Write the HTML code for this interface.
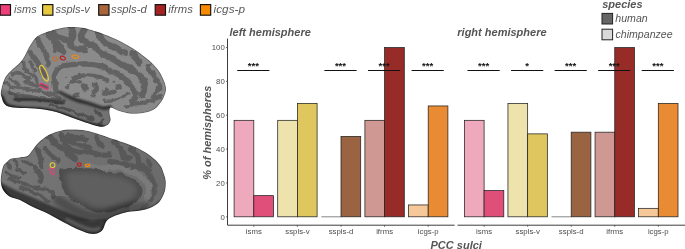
<!DOCTYPE html>
<html lang="en"><head><meta charset="utf-8"><title>PCC sulci</title>
<style>html,body{margin:0;padding:0;background:#fff;}body{width:685px;height:249px;position:relative;overflow:hidden;font-family:"Liberation Sans", sans-serif;}</style>
</head><body>
<svg width="685" height="249" viewBox="0 0 685 249" style="position:absolute;left:0;top:0;font-family:'Liberation Sans', sans-serif">
<defs>
<clipPath id="ct"><path d="M1.6 96.8C1.1 95.1 0.7 94.9 0.8 92.9C0.9 90.9 1.6 87.6 2.4 84.9C3.2 82.2 4.1 79.2 5.6 76.8C7.1 74.4 9.0 72.5 11.2 70.4C13.3 68.3 16.4 66.1 18.5 64.0C20.6 61.9 22.1 60.1 23.6 57.7C25.2 55.3 26.6 51.9 27.8 49.6C29.0 47.3 29.5 46.2 31.0 44.0C32.5 41.8 34.3 38.5 37.0 36.5C39.7 34.5 42.9 33.4 47.0 32.0C51.1 30.6 57.4 28.9 61.4 28.0C65.4 27.1 67.4 26.9 71.2 26.9C75.0 26.9 79.2 27.0 84.0 28.0C88.8 29.0 94.6 30.9 100.0 32.8C105.4 34.7 110.8 36.8 116.2 39.3C121.6 41.8 127.5 45.0 132.3 48.0C137.1 51.0 141.6 54.3 145.0 57.0C148.4 59.7 150.6 61.5 153.0 64.0C155.4 66.5 157.7 69.0 159.6 72.0C161.5 75.0 163.3 78.8 164.4 81.7C165.5 84.7 166.1 87.0 166.0 89.7C165.9 92.4 164.7 95.3 163.6 97.7C162.5 100.1 161.2 102.0 159.6 104.0C158.0 106.0 156.6 108.0 154.0 109.5C151.4 111.0 148.2 112.1 144.3 112.8C140.4 113.5 135.0 114.0 130.8 113.7C126.6 113.4 122.4 112.0 119.0 111.0C115.6 110.0 112.2 107.0 110.6 107.5C109.0 108.0 109.6 112.0 109.6 114.0C109.6 116.0 110.8 118.0 110.6 119.7C110.4 121.4 109.5 123.2 108.2 124.4C106.9 125.6 104.4 126.4 102.5 126.7C100.6 127.0 99.4 126.6 97.0 126.0C94.6 125.4 92.4 124.7 88.3 123.3C84.2 121.9 77.6 119.6 72.3 117.7C67.0 115.8 61.6 113.5 56.2 112.0C50.8 110.5 45.9 109.6 40.0 108.9C34.1 108.2 26.0 108.3 20.9 108.0C15.8 107.7 12.4 107.6 9.6 106.8C6.8 106.0 5.3 104.9 4.0 103.2C2.7 101.5 2.1 98.5 1.6 96.8Z"/></clipPath>
<clipPath id="cb"><path d="M165.2 190.0C164.6 192.9 163.2 195.8 162.0 198.0C160.8 200.2 160.0 201.5 158.0 203.2C156.0 204.9 152.9 206.8 150.0 208.0C147.1 209.2 144.1 209.7 140.3 210.4C136.6 211.1 131.5 211.2 127.5 212.0C123.5 212.8 119.4 214.1 116.2 215.3C113.0 216.5 110.1 217.9 108.2 219.3C106.3 220.8 105.9 222.3 105.0 224.0C104.1 225.7 103.9 228.1 102.6 229.7C101.3 231.3 99.3 232.8 97.0 233.4C94.7 234.0 92.3 234.1 89.0 233.4C85.7 232.7 81.1 230.8 77.0 229.0C72.9 227.2 69.0 225.1 64.2 222.5C59.4 219.9 53.6 216.4 48.2 213.7C42.8 211.0 36.7 208.7 32.0 206.4C27.3 204.1 23.7 201.7 20.0 200.0C16.3 198.3 12.4 198.2 9.6 196.5C6.8 194.8 4.7 192.4 3.2 190.0C1.7 187.6 1.1 184.7 0.8 182.0C0.5 179.3 0.9 176.7 1.3 174.0C1.7 171.3 2.4 167.9 3.2 166.0C4.1 164.1 5.1 163.8 6.4 162.5C7.7 161.2 9.0 159.3 11.2 158.5C13.3 157.7 16.6 157.8 19.3 157.4C22.0 157.0 25.2 157.2 27.3 156.1C29.4 154.9 30.2 152.8 32.1 150.5C34.0 148.2 35.8 145.1 38.5 142.5C41.2 139.9 44.7 137.1 48.2 135.2C51.7 133.3 55.6 131.8 59.4 130.9C63.1 130.0 66.3 129.7 70.7 129.6C75.1 129.5 80.8 129.6 85.7 130.4C90.6 131.2 94.9 132.8 100.0 134.4C105.1 136.0 110.8 138.1 116.2 140.0C121.6 141.9 127.5 143.7 132.3 145.7C137.1 147.7 141.3 149.7 145.0 152.0C148.7 154.3 152.0 156.9 154.7 159.3C157.4 161.7 159.6 164.3 161.0 166.5C162.4 168.7 162.6 170.1 163.4 172.4C164.2 174.7 165.4 177.6 165.7 180.5C166.0 183.4 165.8 187.1 165.2 190.0Z"/></clipPath>
<filter id="b03" x="-10%" y="-10%" width="120%" height="120%"><feTurbulence type="fractalNoise" baseFrequency="0.16" numOctaves="2" seed="3" result="n"/><feDisplacementMap in="SourceGraphic" in2="n" scale="4.5" xChannelSelector="R" yChannelSelector="G" result="d"/><feGaussianBlur in="d" stdDeviation="0.3"/></filter>
<filter id="b05" x="-20%" y="-20%" width="140%" height="140%"><feGaussianBlur stdDeviation="0.6"/></filter>
<filter id="b1" x="-20%" y="-20%" width="140%" height="140%"><feGaussianBlur stdDeviation="1.2"/></filter>
<filter id="b3" x="-20%" y="-20%" width="140%" height="140%"><feGaussianBlur stdDeviation="2.5"/></filter>
<filter id="b6" x="-20%" y="-20%" width="140%" height="140%"><feGaussianBlur stdDeviation="5"/></filter>
<linearGradient id="gb" gradientUnits="userSpaceOnUse" x1="10" y1="150" x2="160" y2="205"><stop offset="0" stop-color="#777777"/><stop offset="0.5" stop-color="#707070"/><stop offset="1" stop-color="#6b6b6b"/></linearGradient>
<linearGradient id="gt" gradientUnits="userSpaceOnUse" x1="20" y1="40" x2="150" y2="110"><stop offset="0" stop-color="#848484"/><stop offset="0.45" stop-color="#8b8b8b"/><stop offset="1" stop-color="#888888"/></linearGradient>
</defs>
<g clip-path="url(#ct)">
<path d="M1.6 96.8C1.1 95.1 0.7 94.9 0.8 92.9C0.9 90.9 1.6 87.6 2.4 84.9C3.2 82.2 4.1 79.2 5.6 76.8C7.1 74.4 9.0 72.5 11.2 70.4C13.3 68.3 16.4 66.1 18.5 64.0C20.6 61.9 22.1 60.1 23.6 57.7C25.2 55.3 26.6 51.9 27.8 49.6C29.0 47.3 29.5 46.2 31.0 44.0C32.5 41.8 34.3 38.5 37.0 36.5C39.7 34.5 42.9 33.4 47.0 32.0C51.1 30.6 57.4 28.9 61.4 28.0C65.4 27.1 67.4 26.9 71.2 26.9C75.0 26.9 79.2 27.0 84.0 28.0C88.8 29.0 94.6 30.9 100.0 32.8C105.4 34.7 110.8 36.8 116.2 39.3C121.6 41.8 127.5 45.0 132.3 48.0C137.1 51.0 141.6 54.3 145.0 57.0C148.4 59.7 150.6 61.5 153.0 64.0C155.4 66.5 157.7 69.0 159.6 72.0C161.5 75.0 163.3 78.8 164.4 81.7C165.5 84.7 166.1 87.0 166.0 89.7C165.9 92.4 164.7 95.3 163.6 97.7C162.5 100.1 161.2 102.0 159.6 104.0C158.0 106.0 156.6 108.0 154.0 109.5C151.4 111.0 148.2 112.1 144.3 112.8C140.4 113.5 135.0 114.0 130.8 113.7C126.6 113.4 122.4 112.0 119.0 111.0C115.6 110.0 112.2 107.0 110.6 107.5C109.0 108.0 109.6 112.0 109.6 114.0C109.6 116.0 110.8 118.0 110.6 119.7C110.4 121.4 109.5 123.2 108.2 124.4C106.9 125.6 104.4 126.4 102.5 126.7C100.6 127.0 99.4 126.6 97.0 126.0C94.6 125.4 92.4 124.7 88.3 123.3C84.2 121.9 77.6 119.6 72.3 117.7C67.0 115.8 61.6 113.5 56.2 112.0C50.8 110.5 45.9 109.6 40.0 108.9C34.1 108.2 26.0 108.3 20.9 108.0C15.8 107.7 12.4 107.6 9.6 106.8C6.8 106.0 5.3 104.9 4.0 103.2C2.7 101.5 2.1 98.5 1.6 96.8Z" fill="url(#gt)"/>
<g fill="none" stroke="#626262" stroke-linecap="round" stroke-linejoin="round" filter="url(#b03)">
<path d="M48.2 34.4C49.4 35.6 53.4 39.4 55.4 41.7C57.4 44.0 59.3 46.5 60.5 48.2C61.7 49.9 62.4 51.4 62.8 52.0" stroke-width="6.8"/>
<path d="M53.8 32.8C54.9 33.6 58.1 36.6 60.2 37.7C62.3 38.8 65.5 39.0 66.6 39.3" stroke-width="5.4"/>
<path d="M71.5 28.0C71.8 29.3 73.3 33.6 73.0 36.0C72.7 38.4 69.6 40.5 69.9 42.5C70.2 44.5 72.3 47.0 74.7 48.1C77.1 49.2 82.7 48.8 84.3 48.9" stroke-width="6.8"/>
<path d="M84.3 29.6C83.8 30.8 80.8 34.6 81.1 36.8C81.4 38.9 83.8 40.9 85.9 42.5C88.0 44.1 91.6 44.9 93.9 46.5C96.2 48.1 97.3 50.2 100.0 52.0C102.7 53.8 106.8 55.3 110.2 57.2C113.6 59.1 117.0 61.3 120.4 63.3C123.8 65.3 127.6 67.5 130.7 69.4C133.8 71.4 136.5 73.0 138.8 75.0C141.1 77.0 143.6 79.3 144.5 81.5C145.4 83.7 144.4 86.2 144.0 88.4C143.6 90.7 142.3 93.9 142.0 95.0" stroke-width="6.6"/>
<path d="M98.0 32.8C98.5 33.8 99.8 36.9 101.0 38.5C102.2 40.1 103.2 41.3 105.0 42.6C106.8 43.9 109.2 44.9 112.0 46.4C114.8 47.9 119.5 50.6 121.7 51.6C123.9 52.6 124.5 52.4 125.0 52.5" stroke-width="6.2"/>
<path d="M37.7 40.0C38.4 41.4 40.5 45.4 42.0 48.1C43.5 50.8 45.6 53.6 46.6 56.1C47.6 58.6 47.9 62.1 48.2 63.3" stroke-width="5.4"/>
<path d="M30.5 52.9C31.3 54.0 34.0 57.4 35.3 59.3C36.6 61.1 38.0 63.2 38.5 64.0" stroke-width="5.4"/>
<path d="M54.6 45.5C54.8 46.5 55.4 50.5 55.6 51.5" stroke-width="4.1"/>
<path d="M56.0 92.0C55.9 90.8 55.5 87.7 55.2 85.0C54.9 82.3 53.9 78.6 54.3 76.0C54.7 73.4 55.9 71.2 57.6 69.5C59.4 67.8 61.9 66.7 64.8 65.8C67.7 64.9 71.0 64.6 75.0 64.3C79.0 64.0 84.7 63.9 89.0 64.2C93.3 64.6 97.6 65.3 101.1 66.4C104.6 67.5 107.0 69.2 110.2 70.8C113.4 72.4 117.3 74.1 120.4 76.0C123.5 77.9 126.4 80.0 128.6 82.2C130.8 84.4 132.5 86.9 133.7 89.4C134.9 91.9 136.1 95.0 135.8 97.0C135.5 99.0 132.6 100.8 132.0 101.5" stroke-width="5.3"/>
<path d="M72.5 82.5C73.0 81.6 74.0 78.5 75.6 77.3C77.2 76.1 79.8 75.9 82.0 75.6C84.2 75.3 85.7 75.0 88.9 75.3C92.1 75.6 98.0 76.6 101.1 77.4C104.2 78.2 106.3 79.6 107.3 80.0" stroke-width="4.2"/>
<path d="M113.0 99.5C114.5 99.1 119.3 98.0 122.0 97.0C124.7 96.0 127.8 94.3 129.0 93.8" stroke-width="3.0"/>
<path d="M103.0 101.0C104.5 100.9 110.5 100.6 112.0 100.5" stroke-width="2.7"/>
<path d="M70.2 83.1C71.2 82.8 74.7 81.2 76.4 81.0C78.1 80.8 79.7 81.8 80.4 82.0" stroke-width="3.2"/>
<path d="M95.3 84.1C95.4 84.9 96.1 87.5 95.8 89.2C95.5 90.9 94.0 93.5 93.7 94.4" stroke-width="4.9"/>
<path d="M104.0 93.0C104.8 92.9 107.3 92.5 109.0 92.3C110.7 92.0 113.2 91.6 114.0 91.5" stroke-width="5.7"/>
<path d="M149.0 66.3C148.9 67.0 147.8 69.1 148.5 70.4C149.2 71.7 151.7 72.4 153.0 74.0C154.3 75.6 154.9 78.3 156.2 80.2C157.4 82.1 160.3 83.7 160.5 85.3C160.7 86.9 158.4 87.8 157.2 89.8C155.9 91.8 153.7 95.8 153.0 97.0" stroke-width="4.9"/>
<path d="M12.5 74.5C13.3 74.2 15.7 72.6 17.3 72.6C18.9 72.6 20.9 73.7 22.2 74.5C23.5 75.3 23.9 76.8 25.0 77.4C26.1 78.1 28.2 78.2 28.9 78.4" stroke-width="3.8"/>
<path d="M9.6 79.3C10.4 79.6 12.9 80.5 14.5 81.3C16.1 82.1 18.5 83.7 19.3 84.2" stroke-width="3.2"/>
<path d="M26.0 81.3C27.0 81.8 29.7 83.4 31.8 84.2C33.9 85.0 37.4 85.7 38.5 86.0" stroke-width="4.1"/>
<path d="M48.2 62.0C48.0 62.8 47.4 66.0 47.2 66.8" stroke-width="4.1"/>
<path d="M11.0 87.0C12.0 87.2 14.8 87.8 17.0 88.0C19.2 88.2 21.2 88.2 24.0 88.5C26.8 88.8 30.5 89.5 33.7 90.0C36.9 90.5 40.2 90.9 43.4 91.8C46.6 92.7 50.3 94.4 53.0 95.5C55.7 96.6 58.6 97.9 59.7 98.4" stroke-width="4.1"/>
<path d="M9.6 91.6C10.4 92.2 12.9 94.4 14.5 95.5C16.1 96.6 18.5 97.9 19.3 98.4" stroke-width="3.5"/>
<path d="M5.8 83.0C6.4 83.3 9.0 84.7 9.6 85.0" stroke-width="3.2"/>
<path d="M16.0 99.3C18.7 99.2 26.6 98.4 32.0 98.5C37.4 98.6 42.8 99.4 48.2 100.0C53.6 100.6 61.5 101.8 64.2 102.2" stroke-width="4.1"/>
<path d="M23.1 62.0C23.3 63.0 23.1 66.0 24.1 67.8C25.1 69.6 27.1 71.1 28.9 72.6C30.7 74.0 33.4 75.0 34.7 76.5C36.0 78.0 36.3 80.5 36.6 81.3" stroke-width="4.1"/>
<path d="M30.8 62.0C31.1 63.0 32.0 66.2 32.8 67.8C33.6 69.4 35.1 71.0 35.6 71.6" stroke-width="3.2"/>
<path d="M41.0 68.0C41.7 69.5 44.3 75.3 45.0 76.8" stroke-width="4.7"/>
<path d="M12.0 94.0C14.7 94.3 22.7 95.1 28.0 96.0C33.3 96.9 38.7 98.7 44.0 99.5C49.3 100.3 57.3 100.8 60.0 101.0" stroke-width="3.0"/>
<path d="M50.0 105.0C52.7 105.7 60.7 107.3 66.0 109.0C71.3 110.7 77.3 113.2 82.0 115.0C86.7 116.8 92.0 118.8 94.0 119.5" stroke-width="3.0"/>
<path d="M96.0 111.0C96.8 111.8 100.2 114.8 101.0 115.5" stroke-width="3.5"/>
<path d="M103.0 120.0C102.5 120.6 100.5 122.9 100.0 123.5" stroke-width="3.2"/>
<path d="M125.8 107.0C127.5 106.4 132.2 104.3 135.9 103.5C139.6 102.7 143.5 103.0 147.7 101.9C151.9 100.8 158.8 97.7 161.0 96.8" stroke-width="4.1"/>
<path d="M133.0 54.0C133.6 54.8 135.5 57.0 136.5 58.5C137.5 60.0 138.6 62.2 139.0 63.0" stroke-width="7.0"/>
<path d="M121.0 53.0C121.7 52.9 124.3 52.4 125.0 52.3" stroke-width="4.1"/>
</g>
<g fill="#626262" filter="url(#b03)">
<circle cx="119" cy="86.8" r="2.76"/>
<circle cx="113.8" cy="82.2" r="1.38"/>
<circle cx="85" cy="87.7" r="3.91"/>
<circle cx="67.2" cy="87.2" r="2.30"/>
<circle cx="76.4" cy="94.9" r="2.76"/>
<circle cx="66.9" cy="76.9" r="1.15"/>
<circle cx="38.9" cy="37.2" r="1.72"/>
<circle cx="106.5" cy="89" r="1.72"/>
</g>
<path d="M60.0 92.5C62.5 93.7 70.2 97.6 75.3 99.5C80.4 101.4 86.1 102.6 90.7 104.0C95.3 105.4 99.8 107.5 103.0 108.0C106.2 108.5 108.8 107.2 110.0 107.0" fill="none" stroke="#000" stroke-opacity="0.6" stroke-width="3.6" stroke-linecap="round" filter="url(#b1)"/>
<path d="M14.0 99.0C16.7 99.1 24.7 99.3 30.0 99.6C35.3 99.9 40.6 100.2 46.0 100.8C51.4 101.4 59.8 103.0 62.6 103.4" fill="none" stroke="#000" stroke-opacity="0.4" stroke-width="2.6" stroke-linecap="round" filter="url(#b1)"/>
<path d="M-2 88L20 95L50 99L70 96L90 103.5L103 107.5L112 106L114 132L-2 132Z" fill="#000" fill-opacity="0.17" filter="url(#b1)"/>
<path d="M1.0 98.0C1.8 99.3 2.7 104.1 6.0 106.0C9.3 107.9 15.2 108.8 20.9 109.5C26.6 110.2 34.1 109.8 40.0 110.5C45.9 111.2 50.8 112.0 56.2 113.5C61.6 115.0 67.0 117.3 72.3 119.2C77.6 121.1 83.3 123.3 88.3 124.8C93.3 126.3 100.1 127.5 102.5 128.0" fill="none" stroke="#000" stroke-opacity="0.68" stroke-width="6" stroke-linecap="round" filter="url(#b1)"/>
<path d="M1.6 96.8C1.1 95.1 0.7 94.9 0.8 92.9C0.9 90.9 1.6 87.6 2.4 84.9C3.2 82.2 4.1 79.2 5.6 76.8C7.1 74.4 9.0 72.5 11.2 70.4C13.3 68.3 16.4 66.1 18.5 64.0C20.6 61.9 22.1 60.1 23.6 57.7C25.2 55.3 26.6 51.9 27.8 49.6C29.0 47.3 29.5 46.2 31.0 44.0C32.5 41.8 34.3 38.5 37.0 36.5C39.7 34.5 42.9 33.4 47.0 32.0C51.1 30.6 57.4 28.9 61.4 28.0C65.4 27.1 67.4 26.9 71.2 26.9C75.0 26.9 79.2 27.0 84.0 28.0C88.8 29.0 94.6 30.9 100.0 32.8C105.4 34.7 110.8 36.8 116.2 39.3C121.6 41.8 127.5 45.0 132.3 48.0C137.1 51.0 141.6 54.3 145.0 57.0C148.4 59.7 150.6 61.5 153.0 64.0C155.4 66.5 157.7 69.0 159.6 72.0C161.5 75.0 163.3 78.8 164.4 81.7C165.5 84.7 166.1 87.0 166.0 89.7C165.9 92.4 164.7 95.3 163.6 97.7C162.5 100.1 161.2 102.0 159.6 104.0C158.0 106.0 156.6 108.0 154.0 109.5C151.4 111.0 148.2 112.1 144.3 112.8C140.4 113.5 135.0 114.0 130.8 113.7C126.6 113.4 122.4 112.0 119.0 111.0C115.6 110.0 112.2 107.0 110.6 107.5C109.0 108.0 109.6 112.0 109.6 114.0C109.6 116.0 110.8 118.0 110.6 119.7C110.4 121.4 109.5 123.2 108.2 124.4C106.9 125.6 104.4 126.4 102.5 126.7C100.6 127.0 99.4 126.6 97.0 126.0C94.6 125.4 92.4 124.7 88.3 123.3C84.2 121.9 77.6 119.6 72.3 117.7C67.0 115.8 61.6 113.5 56.2 112.0C50.8 110.5 45.9 109.6 40.0 108.9C34.1 108.2 26.0 108.3 20.9 108.0C15.8 107.7 12.4 107.6 9.6 106.8C6.8 106.0 5.3 104.9 4.0 103.2C2.7 101.5 2.1 98.5 1.6 96.8Z" fill="none" stroke="#000" stroke-opacity="0.28" stroke-width="1.8" filter="url(#b05)"/>
</g>
<g clip-path="url(#cb)">
<path d="M165.2 190.0C164.6 192.9 163.2 195.8 162.0 198.0C160.8 200.2 160.0 201.5 158.0 203.2C156.0 204.9 152.9 206.8 150.0 208.0C147.1 209.2 144.1 209.7 140.3 210.4C136.6 211.1 131.5 211.2 127.5 212.0C123.5 212.8 119.4 214.1 116.2 215.3C113.0 216.5 110.1 217.9 108.2 219.3C106.3 220.8 105.9 222.3 105.0 224.0C104.1 225.7 103.9 228.1 102.6 229.7C101.3 231.3 99.3 232.8 97.0 233.4C94.7 234.0 92.3 234.1 89.0 233.4C85.7 232.7 81.1 230.8 77.0 229.0C72.9 227.2 69.0 225.1 64.2 222.5C59.4 219.9 53.6 216.4 48.2 213.7C42.8 211.0 36.7 208.7 32.0 206.4C27.3 204.1 23.7 201.7 20.0 200.0C16.3 198.3 12.4 198.2 9.6 196.5C6.8 194.8 4.7 192.4 3.2 190.0C1.7 187.6 1.1 184.7 0.8 182.0C0.5 179.3 0.9 176.7 1.3 174.0C1.7 171.3 2.4 167.9 3.2 166.0C4.1 164.1 5.1 163.8 6.4 162.5C7.7 161.2 9.0 159.3 11.2 158.5C13.3 157.7 16.6 157.8 19.3 157.4C22.0 157.0 25.2 157.2 27.3 156.1C29.4 154.9 30.2 152.8 32.1 150.5C34.0 148.2 35.8 145.1 38.5 142.5C41.2 139.9 44.7 137.1 48.2 135.2C51.7 133.3 55.6 131.8 59.4 130.9C63.1 130.0 66.3 129.7 70.7 129.6C75.1 129.5 80.8 129.6 85.7 130.4C90.6 131.2 94.9 132.8 100.0 134.4C105.1 136.0 110.8 138.1 116.2 140.0C121.6 141.9 127.5 143.7 132.3 145.7C137.1 147.7 141.3 149.7 145.0 152.0C148.7 154.3 152.0 156.9 154.7 159.3C157.4 161.7 159.6 164.3 161.0 166.5C162.4 168.7 162.6 170.1 163.4 172.4C164.2 174.7 165.4 177.6 165.7 180.5C166.0 183.4 165.8 187.1 165.2 190.0Z" fill="url(#gb)"/>
<g fill="none" stroke="#595959" stroke-linecap="round" stroke-linejoin="round" filter="url(#b03)">
<path d="M49.8 137.6C50.9 138.7 53.3 141.6 56.2 144.0C59.1 146.4 64.1 149.4 67.4 152.0C70.7 154.6 74.6 158.2 76.0 159.5" stroke-width="5.6"/>
<path d="M61.0 134.4C62.3 135.5 65.8 138.9 69.0 140.8C72.2 142.7 76.8 144.6 80.3 145.7C83.8 146.8 88.4 147.0 90.0 147.3" stroke-width="5.0"/>
<path d="M69.0 133.6C70.3 134.1 74.0 135.9 77.0 136.8C80.0 137.7 85.1 138.8 86.7 139.2" stroke-width="3.1"/>
<path d="M96.4 137.6C96.9 138.7 98.5 142.7 99.6 144.0C100.7 145.3 102.3 145.4 102.8 145.7" stroke-width="4.4"/>
<path d="M45.0 148.9C46.1 150.0 49.1 153.3 51.4 155.3C53.6 157.3 57.3 160.1 58.5 161.0" stroke-width="4.4"/>
<path d="M37.0 148.9C37.5 150.2 39.2 154.0 40.0 156.9C40.8 159.8 41.5 164.9 41.8 166.5" stroke-width="5.0"/>
<path d="M90.0 152.0C91.6 152.4 96.3 153.9 99.6 154.5C102.9 155.1 108.3 155.3 110.0 155.5" stroke-width="4.4"/>
<path d="M14.5 160.0C15.0 160.8 17.2 164.2 17.7 165.0" stroke-width="3.8"/>
<path d="M23.0 161.0C24.2 161.5 27.8 162.8 30.0 164.0C32.2 165.2 35.0 167.8 36.0 168.5" stroke-width="3.5"/>
<path d="M8.5 163.5C8.8 164.2 10.2 167.2 10.5 168.0" stroke-width="3.0"/>
<path d="M6.0 172.0C7.0 172.7 9.7 175.1 12.0 176.0C14.3 176.9 18.7 177.2 20.0 177.5" stroke-width="3.0"/>
<path d="M114.6 142.5C115.7 143.6 119.4 146.5 121.0 148.9C122.6 151.3 122.6 155.3 124.2 156.9C125.8 158.5 129.6 158.2 130.7 158.5" stroke-width="5.6"/>
<path d="M130.7 148.9C131.8 150.0 135.7 152.9 137.0 155.3C138.3 157.7 138.4 162.0 138.7 163.3" stroke-width="5.6"/>
<path d="M146.7 160.0C147.5 160.8 150.7 164.2 151.5 165.0" stroke-width="3.8"/>
<path d="M68.0 134.4C69.1 135.2 72.1 138.7 74.5 139.2C76.9 139.7 80.6 137.3 82.5 137.6C84.4 137.9 85.2 140.3 85.7 140.8" stroke-width="3.8"/>
<path d="M61.6 137.6C62.7 139.2 65.3 144.9 68.0 147.3C70.7 149.7 74.0 151.2 77.7 152.0C81.5 152.8 86.5 151.4 90.5 152.0C94.5 152.6 98.6 154.9 101.8 155.3C105.0 155.7 108.5 154.6 109.8 154.5" stroke-width="5.0"/>
<path d="M37.0 170.8C37.8 171.9 41.3 175.3 41.8 177.2C42.3 179.1 40.3 181.2 40.0 182.0" stroke-width="5.0"/>
<path d="M16.0 169.0C17.3 169.6 22.7 171.8 24.0 172.4" stroke-width="3.8"/>
<path d="M9.6 178.8C12.0 179.6 18.9 182.1 24.0 183.7C29.1 185.3 35.4 187.2 40.0 188.5C44.6 189.8 49.2 190.4 51.4 191.7C53.6 193.0 52.7 195.7 53.0 196.5" stroke-width="3.8"/>
<path d="M20.9 186.9C22.8 187.7 28.5 190.1 32.0 191.7C35.5 193.3 39.1 194.9 41.8 196.5C44.5 198.1 47.1 200.5 48.2 201.3" stroke-width="3.8"/>
<path d="M110.0 161.5C112.5 161.9 120.5 163.0 125.0 164.0C129.5 165.0 133.3 166.2 137.0 167.5C140.7 168.8 144.4 169.9 147.0 172.0C149.6 174.1 151.2 177.0 152.5 180.0C153.8 183.0 154.8 186.7 154.5 190.0C154.2 193.3 151.2 198.3 150.5 200.0" stroke-width="5.5"/>
<path d="M143.0 166.0C144.0 166.7 148.0 169.3 149.0 170.0" stroke-width="6.2"/>
</g>
<path d="M88.0 166.6C89.7 166.7 95.0 166.9 98.0 167.1C101.0 167.3 103.1 167.6 106.0 167.6C108.9 167.6 112.4 166.9 115.6 167.3C118.8 167.7 122.1 169.0 125.3 170.0C128.5 171.0 132.0 172.0 134.9 173.4C137.8 174.8 140.5 176.6 142.6 178.2C144.7 179.8 146.3 181.2 147.4 183.0C148.5 184.8 148.9 186.7 149.0 188.8C149.1 190.9 149.1 193.5 148.0 195.8C146.9 198.1 145.2 200.7 142.5 202.8C139.8 204.9 133.8 207.4 132.0 208.3" fill="none" stroke="#7a7a7a" stroke-width="5.6" stroke-linecap="round" filter="url(#b03)"/>
<path d="M60.0 169.5C62.3 167.2 69.7 168.2 75.0 168.0C80.3 167.8 86.8 167.9 92.0 168.5C97.2 169.1 101.2 170.8 106.0 171.6C110.8 172.4 116.5 172.6 120.5 173.6C124.5 174.6 127.0 175.8 130.0 177.4C133.1 179.0 136.7 181.1 138.8 183.2C140.9 185.3 142.3 187.5 142.5 190.0C142.7 192.5 141.6 195.7 140.0 198.0C138.4 200.3 136.0 202.2 133.0 204.0C130.0 205.8 125.8 207.7 122.0 209.0C118.2 210.3 114.5 211.5 110.0 212.0C105.5 212.5 99.5 213.0 95.0 212.0C90.5 211.0 86.8 208.0 83.0 206.0C79.2 204.0 75.2 202.3 72.0 200.0C68.8 197.7 65.8 195.0 64.0 192.0C62.2 189.0 61.7 185.8 61.0 182.0C60.3 178.2 57.7 171.8 60.0 169.5Z" fill="#4d4d4d" filter="url(#b03)"/>
<path d="M66.0 173.2C68.0 171.3 74.3 172.1 78.9 172.0C83.5 171.9 89.1 171.9 93.5 172.4C98.0 172.9 101.5 174.2 105.6 174.9C109.7 175.6 114.6 175.7 118.0 176.5C121.5 177.3 123.6 178.2 126.2 179.5C128.8 180.8 132.0 182.5 133.8 184.2C135.6 185.8 136.8 187.6 137.0 189.6C137.1 191.6 136.2 194.1 134.8 196.0C133.5 197.9 131.4 199.3 128.8 200.8C126.2 202.3 122.6 203.7 119.3 204.8C116.0 205.9 112.9 206.8 109.0 207.2C105.1 207.6 100.0 208.0 96.1 207.2C92.2 206.4 89.1 204.0 85.8 202.4C82.5 200.8 79.1 199.5 76.3 197.6C73.6 195.7 71.0 193.6 69.5 191.2C67.9 188.8 67.5 186.2 66.9 183.2C66.3 180.2 64.0 175.1 66.0 173.2Z" fill="#5f5f5f" filter="url(#b3)"/>
<path d="M58.0 200.0C60.3 201.5 67.0 206.4 72.0 209.0C77.0 211.6 83.0 214.2 88.0 215.5C93.0 216.8 97.3 217.1 102.0 216.5C106.7 215.9 111.3 213.3 116.0 212.0C120.7 210.7 125.3 209.5 130.0 208.5C134.7 207.5 141.7 206.4 144.0 206.0" fill="none" stroke="#000" stroke-opacity="0.32" stroke-width="11" stroke-linecap="round" filter="url(#b3)"/>
<path d="M-2 181L15 190L35 198.5L60 209.5L76 216L92 220.5L106 219L114 242L-2 242Z" fill="#000" fill-opacity="0.5" filter="url(#b1)"/>
<path d="M1.0 188.0C2.4 189.8 6.4 196.5 9.6 199.0C12.8 201.5 16.3 201.3 20.0 203.0C23.7 204.7 27.3 207.1 32.0 209.4C36.7 211.7 42.8 214.0 48.2 216.7C53.6 219.4 59.4 222.9 64.2 225.5C69.0 228.1 72.9 230.2 77.0 232.0C81.1 233.8 85.3 235.7 89.0 236.4C92.7 237.1 96.2 237.6 99.0 236.0C101.8 234.4 104.8 228.5 106.0 227.0" fill="none" stroke="#000" stroke-opacity="0.45" stroke-width="5" stroke-linecap="round" filter="url(#b1)"/>
<path d="M67.0 219.5C69.2 220.6 75.8 224.1 80.0 225.8C84.2 227.5 88.8 229.2 92.0 229.6C95.2 230.0 97.8 228.7 99.0 228.5" fill="none" stroke="#808080" stroke-opacity="0.5" stroke-width="3.4" stroke-linecap="round" filter="url(#b1)"/>
<path d="M106.0 222.0C107.7 221.1 112.3 217.9 116.0 216.5C119.7 215.1 123.8 214.2 128.0 213.5C132.2 212.8 137.2 212.7 141.0 212.0C144.8 211.3 147.8 211.0 151.0 209.5C154.2 208.0 158.5 204.1 160.0 203.0" fill="none" stroke="#000" stroke-opacity="0.4" stroke-width="4" stroke-linecap="round" filter="url(#b1)"/>
<path d="M165.2 190.0C164.6 192.9 163.2 195.8 162.0 198.0C160.8 200.2 160.0 201.5 158.0 203.2C156.0 204.9 152.9 206.8 150.0 208.0C147.1 209.2 144.1 209.7 140.3 210.4C136.6 211.1 131.5 211.2 127.5 212.0C123.5 212.8 119.4 214.1 116.2 215.3C113.0 216.5 110.1 217.9 108.2 219.3C106.3 220.8 105.9 222.3 105.0 224.0C104.1 225.7 103.9 228.1 102.6 229.7C101.3 231.3 99.3 232.8 97.0 233.4C94.7 234.0 92.3 234.1 89.0 233.4C85.7 232.7 81.1 230.8 77.0 229.0C72.9 227.2 69.0 225.1 64.2 222.5C59.4 219.9 53.6 216.4 48.2 213.7C42.8 211.0 36.7 208.7 32.0 206.4C27.3 204.1 23.7 201.7 20.0 200.0C16.3 198.3 12.4 198.2 9.6 196.5C6.8 194.8 4.7 192.4 3.2 190.0C1.7 187.6 1.1 184.7 0.8 182.0C0.5 179.3 0.9 176.7 1.3 174.0C1.7 171.3 2.4 167.9 3.2 166.0C4.1 164.1 5.1 163.8 6.4 162.5C7.7 161.2 9.0 159.3 11.2 158.5C13.3 157.7 16.6 157.8 19.3 157.4C22.0 157.0 25.2 157.2 27.3 156.1C29.4 154.9 30.2 152.8 32.1 150.5C34.0 148.2 35.8 145.1 38.5 142.5C41.2 139.9 44.7 137.1 48.2 135.2C51.7 133.3 55.6 131.8 59.4 130.9C63.1 130.0 66.3 129.7 70.7 129.6C75.1 129.5 80.8 129.6 85.7 130.4C90.6 131.2 94.9 132.8 100.0 134.4C105.1 136.0 110.8 138.1 116.2 140.0C121.6 141.9 127.5 143.7 132.3 145.7C137.1 147.7 141.3 149.7 145.0 152.0C148.7 154.3 152.0 156.9 154.7 159.3C157.4 161.7 159.6 164.3 161.0 166.5C162.4 168.7 162.6 170.1 163.4 172.4C164.2 174.7 165.4 177.6 165.7 180.5C166.0 183.4 165.8 187.1 165.2 190.0Z" fill="none" stroke="#000" stroke-opacity="0.28" stroke-width="1.8" filter="url(#b05)"/>
</g>
<g fill="none" stroke-width="1.1" stroke-linejoin="round">
<ellipse cx="44" cy="73.3" rx="2.7" ry="8.5" transform="rotate(-24 44 73.3)" stroke="#e8c83a"/>
<rect x="39.4" y="84.7" width="9.2" height="3.2" rx="1.6" transform="rotate(24 44 86.3)" stroke="#e8356e" fill="#5e5e5e"/>
<rect x="52.9" y="57" width="4.8" height="3.6" rx="1.6" stroke="#c8702c"/>
<ellipse cx="62.8" cy="58.1" rx="2.7" ry="1.7" transform="rotate(22 62.8 58.1)" stroke="#b82020"/>
<ellipse cx="75.3" cy="56.7" rx="3.2" ry="1.5" transform="rotate(10 75.3 56.7)" stroke="#f48a10"/>
<ellipse cx="52.5" cy="165.2" rx="2.4" ry="2.4" stroke="#e8c83a"/>
<path d="M49.5 169Q51.6 167.3 53.7 169.2L54.2 173.9Q53 175.3 51.7 173.8Z" stroke="#e8407a"/>
<ellipse cx="79.3" cy="164.5" rx="1.9" ry="1.7" stroke="#c02020" stroke-width="1.3"/>
<ellipse cx="87.5" cy="165.3" rx="2.3" ry="1.3" stroke="#f88a00" stroke-width="1.1"/>
</g>
<rect x="234.10" y="120.33" width="19.70" height="96.47" fill="#eeaabc" stroke="#222" stroke-width="0.75"/>
<rect x="253.80" y="195.64" width="19.70" height="21.16" fill="#e04f79" stroke="#222" stroke-width="0.75"/>
<line x1="237.20" x2="269.40" y1="70.5" y2="70.5" stroke="#111" stroke-width="1.2"/>
<text x="253.30" y="68.7" font-size="9.6" font-weight="bold" text-anchor="middle" fill="#111">***</text>
<rect x="277.70" y="120.33" width="19.70" height="96.47" fill="#efe3ad" stroke="#222" stroke-width="0.75"/>
<rect x="297.40" y="103.40" width="19.70" height="113.40" fill="#dfc65f" stroke="#222" stroke-width="0.75"/>
<line x1="321.30" x2="341.00" y1="216.80" y2="216.80" stroke="#555" stroke-width="0.7"/>
<rect x="341.00" y="136.41" width="19.70" height="80.39" fill="#9a6341" stroke="#222" stroke-width="0.75"/>
<line x1="324.40" x2="356.60" y1="70.5" y2="70.5" stroke="#111" stroke-width="1.2"/>
<text x="340.50" y="68.7" font-size="9.6" font-weight="bold" text-anchor="middle" fill="#111">***</text>
<rect x="364.90" y="120.33" width="19.70" height="96.47" fill="#cf9893" stroke="#222" stroke-width="0.75"/>
<rect x="384.60" y="47.55" width="19.70" height="169.25" fill="#962b27" stroke="#222" stroke-width="0.75"/>
<line x1="368.00" x2="400.20" y1="70.5" y2="70.5" stroke="#111" stroke-width="1.2"/>
<text x="384.10" y="68.7" font-size="9.6" font-weight="bold" text-anchor="middle" fill="#111">***</text>
<rect x="408.50" y="204.95" width="19.70" height="11.85" fill="#f6c798" stroke="#222" stroke-width="0.75"/>
<rect x="428.20" y="105.94" width="19.70" height="110.86" fill="#e88b32" stroke="#222" stroke-width="0.75"/>
<line x1="411.60" x2="443.80" y1="70.5" y2="70.5" stroke="#111" stroke-width="1.2"/>
<text x="427.70" y="68.7" font-size="9.6" font-weight="bold" text-anchor="middle" fill="#111">***</text>
<rect x="464.40" y="120.33" width="19.70" height="96.47" fill="#eeaabc" stroke="#222" stroke-width="0.75"/>
<rect x="484.10" y="190.57" width="19.70" height="26.23" fill="#e04f79" stroke="#222" stroke-width="0.75"/>
<line x1="467.50" x2="499.70" y1="70.5" y2="70.5" stroke="#111" stroke-width="1.2"/>
<text x="483.60" y="68.7" font-size="9.6" font-weight="bold" text-anchor="middle" fill="#111">***</text>
<rect x="507.95" y="103.40" width="19.70" height="113.40" fill="#efe3ad" stroke="#222" stroke-width="0.75"/>
<rect x="527.65" y="133.87" width="19.70" height="82.93" fill="#dfc65f" stroke="#222" stroke-width="0.75"/>
<line x1="511.05" x2="543.25" y1="70.5" y2="70.5" stroke="#111" stroke-width="1.2"/>
<text x="527.15" y="68.7" font-size="9.6" font-weight="bold" text-anchor="middle" fill="#111">*</text>
<line x1="551.50" x2="571.20" y1="216.80" y2="216.80" stroke="#555" stroke-width="0.7"/>
<rect x="571.20" y="132.18" width="19.70" height="84.62" fill="#9a6341" stroke="#222" stroke-width="0.75"/>
<line x1="554.60" x2="586.80" y1="70.5" y2="70.5" stroke="#111" stroke-width="1.2"/>
<text x="570.70" y="68.7" font-size="9.6" font-weight="bold" text-anchor="middle" fill="#111">***</text>
<rect x="595.05" y="132.18" width="19.70" height="84.62" fill="#cf9893" stroke="#222" stroke-width="0.75"/>
<rect x="614.75" y="47.55" width="19.70" height="169.25" fill="#962b27" stroke="#222" stroke-width="0.75"/>
<line x1="598.15" x2="630.35" y1="70.5" y2="70.5" stroke="#111" stroke-width="1.2"/>
<text x="614.25" y="68.7" font-size="9.6" font-weight="bold" text-anchor="middle" fill="#111">***</text>
<rect x="638.60" y="208.34" width="19.70" height="8.46" fill="#f6c798" stroke="#222" stroke-width="0.75"/>
<rect x="658.30" y="103.40" width="19.70" height="113.40" fill="#e88b32" stroke="#222" stroke-width="0.75"/>
<line x1="641.70" x2="673.90" y1="70.5" y2="70.5" stroke="#111" stroke-width="1.2"/>
<text x="657.80" y="68.7" font-size="9.6" font-weight="bold" text-anchor="middle" fill="#111">***</text>
<path d="M227.5 38.6V225.2H454.6" fill="none" stroke="#333333" stroke-width="0.95"/>
<path d="M457.5 225.2H685" fill="none" stroke="#333333" stroke-width="0.95"/>
<line x1="226" x2="227.5" y1="216.80" y2="216.80" stroke="#333333" stroke-width="0.7"/>
<text x="224.8" y="219.60" font-size="7.8" text-anchor="end" fill="#4d4d4d">0</text>
<line x1="226" x2="227.5" y1="182.95" y2="182.95" stroke="#333333" stroke-width="0.7"/>
<text x="224.8" y="185.75" font-size="7.8" text-anchor="end" fill="#4d4d4d">20</text>
<line x1="226" x2="227.5" y1="149.10" y2="149.10" stroke="#333333" stroke-width="0.7"/>
<text x="224.8" y="151.90" font-size="7.8" text-anchor="end" fill="#4d4d4d">40</text>
<line x1="226" x2="227.5" y1="115.25" y2="115.25" stroke="#333333" stroke-width="0.7"/>
<text x="224.8" y="118.05" font-size="7.8" text-anchor="end" fill="#4d4d4d">60</text>
<line x1="226" x2="227.5" y1="81.40" y2="81.40" stroke="#333333" stroke-width="0.7"/>
<text x="224.8" y="84.20" font-size="7.8" text-anchor="end" fill="#4d4d4d">80</text>
<line x1="226" x2="227.5" y1="47.55" y2="47.55" stroke="#333333" stroke-width="0.7"/>
<text x="224.8" y="50.35" font-size="7.8" text-anchor="end" fill="#4d4d4d">100</text>
<line x1="253.80" x2="253.80" y1="225.2" y2="226.8" stroke="#333333" stroke-width="0.7"/>
<text x="253.80" y="233.9" font-size="7.8" text-anchor="middle" fill="#4d4d4d">isms</text>
<line x1="297.40" x2="297.40" y1="225.2" y2="226.8" stroke="#333333" stroke-width="0.7"/>
<text x="297.40" y="233.9" font-size="7.8" text-anchor="middle" fill="#4d4d4d">sspls-v</text>
<line x1="341.00" x2="341.00" y1="225.2" y2="226.8" stroke="#333333" stroke-width="0.7"/>
<text x="341.00" y="233.9" font-size="7.8" text-anchor="middle" fill="#4d4d4d">sspls-d</text>
<line x1="384.60" x2="384.60" y1="225.2" y2="226.8" stroke="#333333" stroke-width="0.7"/>
<text x="384.60" y="233.9" font-size="7.8" text-anchor="middle" fill="#4d4d4d">ifrms</text>
<line x1="428.20" x2="428.20" y1="225.2" y2="226.8" stroke="#333333" stroke-width="0.7"/>
<text x="428.20" y="233.9" font-size="7.8" text-anchor="middle" fill="#4d4d4d">icgs-p</text>
<line x1="484.10" x2="484.10" y1="225.2" y2="226.8" stroke="#333333" stroke-width="0.7"/>
<text x="484.10" y="233.9" font-size="7.8" text-anchor="middle" fill="#4d4d4d">isms</text>
<line x1="527.65" x2="527.65" y1="225.2" y2="226.8" stroke="#333333" stroke-width="0.7"/>
<text x="527.65" y="233.9" font-size="7.8" text-anchor="middle" fill="#4d4d4d">sspls-v</text>
<line x1="571.20" x2="571.20" y1="225.2" y2="226.8" stroke="#333333" stroke-width="0.7"/>
<text x="571.20" y="233.9" font-size="7.8" text-anchor="middle" fill="#4d4d4d">sspls-d</text>
<line x1="614.75" x2="614.75" y1="225.2" y2="226.8" stroke="#333333" stroke-width="0.7"/>
<text x="614.75" y="233.9" font-size="7.8" text-anchor="middle" fill="#4d4d4d">ifrms</text>
<line x1="658.30" x2="658.30" y1="225.2" y2="226.8" stroke="#333333" stroke-width="0.7"/>
<text x="658.30" y="233.9" font-size="7.8" text-anchor="middle" fill="#4d4d4d">icgs-p</text>
<text x="229.5" y="36.2" font-size="11" font-weight="bold" font-style="italic" fill="#555555">left hemisphere</text>
<text x="457.3" y="36.2" font-size="11" font-weight="bold" font-style="italic" fill="#555555">right hemisphere</text>
<text x="456.2" y="249" font-size="11" font-weight="bold" font-style="italic" text-anchor="middle" fill="#555555">PCC sulci</text>
<text transform="translate(211 132.8) rotate(-90)" font-size="11" font-weight="bold" font-style="italic" text-anchor="middle" fill="#555555">% of hemispheres</text>
<text x="602.2" y="7.6" font-size="11" font-weight="bold" font-style="italic" fill="#555555">species</text>
<rect x="602" y="13.4" width="10.6" height="10.6" fill="#666666" stroke="#222" stroke-width="1"/>
<rect x="602" y="29.2" width="10.6" height="10.6" fill="#d9d9d9" stroke="#222" stroke-width="1"/>
<text x="615.3" y="21.5" font-size="10.6" font-style="italic" fill="#555555">human</text>
<text x="615.5" y="38.1" font-size="10.6" font-style="italic" fill="#555555">chimpanzee</text>
<rect x="0.2" y="4.6" width="10.3" height="10.6" fill="#ee3f7a" stroke="#111" stroke-width="1.15"/>
<text x="14.1" y="12.9" font-size="10.7" font-style="italic" fill="#5a5a5a" textLength="22.6" lengthAdjust="spacingAndGlyphs">isms</text>
<rect x="42.6" y="4.6" width="10.3" height="10.6" fill="#e8c83e" stroke="#111" stroke-width="1.15"/>
<text x="55.4" y="12.9" font-size="10.7" font-style="italic" fill="#5a5a5a" textLength="34.3" lengthAdjust="spacingAndGlyphs">sspls-v</text>
<rect x="98.7" y="4.6" width="10.3" height="10.6" fill="#a9663d" stroke="#111" stroke-width="1.15"/>
<text x="111" y="12.9" font-size="10.7" font-style="italic" fill="#5a5a5a" textLength="35.8" lengthAdjust="spacingAndGlyphs">sspls-d</text>
<rect x="155.2" y="4.6" width="10.3" height="10.6" fill="#a52222" stroke="#111" stroke-width="1.15"/>
<text x="168.3" y="12.9" font-size="10.7" font-style="italic" fill="#5a5a5a" textLength="24.5" lengthAdjust="spacingAndGlyphs">ifrms</text>
<rect x="200.4" y="4.6" width="10.3" height="10.6" fill="#f88a00" stroke="#111" stroke-width="1.15"/>
<text x="213.6" y="12.9" font-size="10.7" font-style="italic" fill="#5a5a5a" textLength="31.4" lengthAdjust="spacingAndGlyphs">icgs-p</text>
</svg>
</body></html>
